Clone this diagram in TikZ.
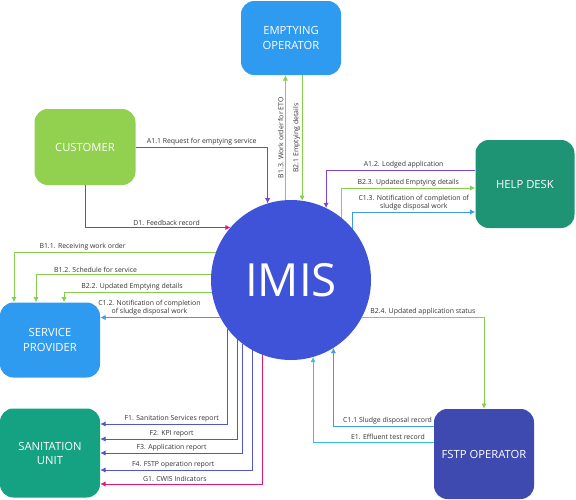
\documentclass[tikz,border=0pt]{standalone}
\usepackage{fontspec}
\setmainfont{Open Sans}
\usepackage{tikz}
\usetikzlibrary{arrows.meta,calc,positioning}
\definecolor{customergreen}{HTML}{92D050}
\definecolor{operatorblue}{HTML}{2E9BF0}
\definecolor{helpteal}{HTML}{1F9474}
\definecolor{unitteal}{HTML}{15A282}
\definecolor{fstpindigo}{HTML}{3F4AB0}
\definecolor{imisblue}{HTML}{3F53D8}
\definecolor{linkpurple}{HTML}{7C43CC}
\definecolor{linkgreen}{HTML}{86CF4E}
\definecolor{linkblue}{HTML}{3D9BEA}
\definecolor{linkpink}{HTML}{E2187A}
\definecolor{linkreport}{HTML}{5157C6}
\definecolor{linkcyan}{HTML}{2FC6DC}
\definecolor{labelgray}{HTML}{333333}
\tikzset{
  actor/.style={rounded corners=0.4cm,minimum width=3cm,minimum height=2.25cm,text=white,align=center,font=\fontsize{9.6}{12}\selectfont},
  flow/.style={line width=0.85pt,-{Latex[length=4.5pt,width=4.5pt]}},
  purpleflow/.style={flow,draw=linkpurple},
  greenflow/.style={flow,draw=linkgreen},
  blueflow/.style={flow,draw=linkblue},
  pinkflow/.style={flow,draw=linkpink},
  reportflow/.style={flow,draw=linkreport},
  cyanflow/.style={flow,draw=linkcyan},
  flowlabel/.style={font=\fontsize{5.9}{7}\selectfont,text=labelgray,inner sep=1.3pt,align=center}
}

\begin{document}
\begin{tikzpicture}[scale=1]
  \useasboundingbox (0,0) rectangle (17.28,-14.97);
  \node[circle,fill=imisblue,minimum size=4.8cm,outer sep=0pt,text=white,font=\fontsize{39}{41}\selectfont] (imis) at (8.73,-8.40) {IMIS};
  \node[actor,fill=operatorblue,minimum height=2.22cm] (emp) at (8.73,-1.14) {EMPTYING\\OPERATOR};
  \node[actor,fill=customergreen,minimum width=3.03cm,minimum height=2.28cm] (cust) at (2.55,-4.41) {CUSTOMER};
  \node[actor,fill=helpteal,minimum width=2.97cm,minimum height=2.64cm] (help) at (15.75,-5.52) {HELP DESK};
  \node[actor,fill=operatorblue] (serv) at (1.5,-10.2) {SERVICE\\PROVIDER};
  \node[actor,fill=unitteal,minimum height=2.67cm] (san) at (1.5,-13.59) {SANITATION\\UNIT};
  \node[actor,fill=fstpindigo,minimum height=2.7cm] (fstp) at (14.52,-13.62) {FSTP OPERATOR};

  % customer
  \draw[purpleflow] (cust.east) -| node[flowlabel,pos=0.25,above] {A1.1 Request for emptying service} (imis.107);
  \draw[pinkflow] (cust.south) |- node[flowlabel,pos=0.78,above] {D1. Feedback record} (imis.139);

  % emptying operator
  \draw[greenflow] (imis.94) -- node[flowlabel,midway,rotate=90,anchor=south] {B1.3. Work order for ETO} (imis.94 |- emp.south);
  \draw[greenflow] (imis.82 |- emp.south) -- node[flowlabel,midway,rotate=90,anchor=south] {B2.1 Emptying details} (imis.82);

  % help desk
  \draw[purpleflow] ([yshift=0.42cm]help.west) -| node[flowlabel,pos=0.24,above] {A1.2. Lodged application} (imis.64);
  \draw[greenflow] (imis.51) |- node[flowlabel,pos=0.75,above] {B2.3. Updated Emptying details} ([yshift=-0.12cm]help.west);
  \draw[blueflow] (imis.40) |- node[flowlabel,pos=0.75,above] {C1.3. Notification of completion of\\sludge disposal work} ([yshift=-0.84cm]help.west);

  % service provider
  \draw[greenflow] (imis.160) -| node[flowlabel,pos=0.33,above] {B1.1. Receiving work order} ([xshift=-1.08cm]serv.north);
  \draw[greenflow] (imis.176) -| node[flowlabel,pos=0.33,above] {B1.2. Schedule for service} ([xshift=-0.42cm]serv.north);
  \draw[greenflow] (imis.-171) -| node[flowlabel,pos=0.27,above] {B2.2. Updated Emptying details} ([xshift=0.42cm]serv.north);
  \draw[blueflow] (imis.-152) -- node[flowlabel,pos=0.59,above] {C1.2. Notification of completion\\of sludge disposal work} (imis.-152 -| serv.east);

  % sanitation unit
  \draw[reportflow] (imis.-142) |- node[flowlabel,pos=0.72,above] {F1. Sanitation Services report} ([yshift=0.87cm]san.east);
  \draw[reportflow] (imis.-132) |- node[flowlabel,pos=0.74,above] {F2. KPI report} ([yshift=0.42cm]san.east);
  \draw[reportflow] (imis.-127) |- node[flowlabel,pos=0.75,above] {F3. Application report} (san.east);
  \draw[reportflow] (imis.-119) |- node[flowlabel,pos=0.76,above] {F4. FSTP operation report} ([yshift=-0.51cm]san.east);
  \draw[pinkflow] (imis.-111) |- node[flowlabel,pos=0.77,above] {G1. CWIS Indicators} ([yshift=-0.93cm]san.east);

  % fstp operator
  \draw[greenflow] (imis.-28) -| node[flowlabel,pos=0.25,above] {B2.4. Updated application status} (fstp.north);
  \draw[blueflow] ([yshift=0.84cm]fstp.west) -| node[flowlabel,pos=0.23,above] {C1.1 Sludge disposal record} (imis.-58);
  \draw[cyanflow] ([yshift=0.36cm]fstp.west) -| node[flowlabel,pos=0.19,above] {E1. Effluent test record} (imis.-74);
\end{tikzpicture}
\end{document}
